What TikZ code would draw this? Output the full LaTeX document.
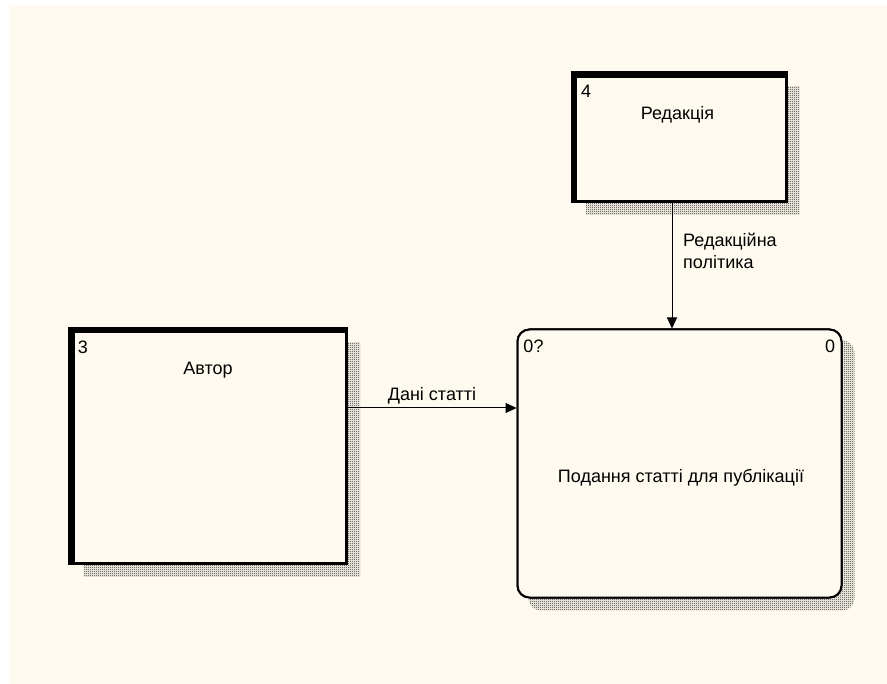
\documentclass[tikz,border=0pt]{standalone}
\usepackage{fontspec}
\setmainfont{Liberation Sans}
\usetikzlibrary{arrows.meta,patterns}

\definecolor{paper}{RGB}{255,250,240}
\definecolor{shade}{RGB}{40,40,38}

% 1px checker for the drop shadows
\pgfdeclarepatternformonly{shadowdots}{\pgfqpoint{0pt}{0pt}}{\pgfqpoint{2pt}{2pt}}{\pgfqpoint{2pt}{2pt}}{
  \pgfpathrectangle{\pgfqpoint{0pt}{0pt}}{\pgfqpoint{1pt}{1pt}}
  \pgfpathrectangle{\pgfqpoint{1pt}{1pt}}{\pgfqpoint{1pt}{1pt}}
  \pgfusepath{fill}
}

\tikzset{
  extbox/.style={draw,fill=paper,line width=3pt,inner sep=0pt},
  procbox/.style={draw,fill=paper,line width=2pt,rounded corners=12pt,inner sep=0pt},
  shadowfill/.style={pattern=shadowdots,pattern color=shade},
  flow/.style={line width=1pt,-{Triangle[length=11pt,width=10pt]}},
  lbl/.style={inner sep=0pt,font=\fontsize{18}{22}\selectfont}
}

\begin{document}
\begin{tikzpicture}[x=1pt,y=-1pt]
  \useasboundingbox (0,0) rectangle (887,684);
  \fill[white] (0,0) rectangle (887,684);
  \fill[paper] (9,5) rectangle (887,684);

  \coordinate (redakc) at (680.5,139);
  \coordinate (avtorc) at (209.75,447.75);
  \coordinate (procc) at (679.5,463.5);

  % external entities
  \node[extbox,minimum width=211pt,minimum height=125pt] (redak) at (redakc) {};
  \fill[shadowfill] ([shift={(12,12)}]redak.north west) rectangle ([shift={(12,12)}]redak.south east);
  \node[extbox,minimum width=211pt,minimum height=125pt] (redak) at (redakc) {};
  \draw[line width=6pt] (redak.south west) -- (redak.north west);
  \draw[line width=7pt] ([xshift=-3pt]redak.north west) -- (redak.north east);
  \node[lbl] (redaknum) at (586,91.5) {4};
  \node[lbl] (redaktxt) at (677.5,115) {Редакція};

  \node[extbox,minimum width=273.5pt,minimum height=231.5pt] (avtor) at (avtorc) {};
  \fill[shadowfill] ([shift={(12,12)}]avtor.north west) rectangle ([shift={(12,12)}]avtor.south east);
  \node[extbox,minimum width=273.5pt,minimum height=231.5pt] (avtor) at (avtorc) {};
  \draw[line width=7pt] (avtor.south west) -- (avtor.north west);
  \draw[line width=6pt] ([xshift=-3.5pt]avtor.north west) -- (avtor.north east);
  \node[lbl] (avtornum) at (83,347) {3};
  \node[lbl] (avtortxt) at (208,370.5) {Автор};

  % process
  \node[procbox,minimum width=324pt,minimum height=268pt] (proc) at (procc) {};
  \fill[shadowfill,rounded corners=12pt] ([shift={(12,12)}]proc.north west) rectangle ([shift={(12,12)}]proc.south east);
  \node[procbox,minimum width=324pt,minimum height=268pt] (proc) at (procc) {};
  \node[lbl] (procid) at (533.5,346.5) {0?};
  \node[lbl] (proccost) at (830,346.5) {0};
  \node[lbl] (proctxt) at (681,478) {Подання статті для публікації};

  % flows
  \draw[flow] ([xshift=-8.5pt]redak.south) -- ([xshift=-7.5pt]proc.north);
  \node[lbl,anchor=west,align=left] (politxt) at (683,251) {Редакційна\\політика};
  \draw[flow] ([yshift=39.75pt]avtor.east) -- ([yshift=55.5pt]proc.west);
  \node[lbl] (danitxt) at (432,396) {Дані статті};
\end{tikzpicture}
\end{document}
